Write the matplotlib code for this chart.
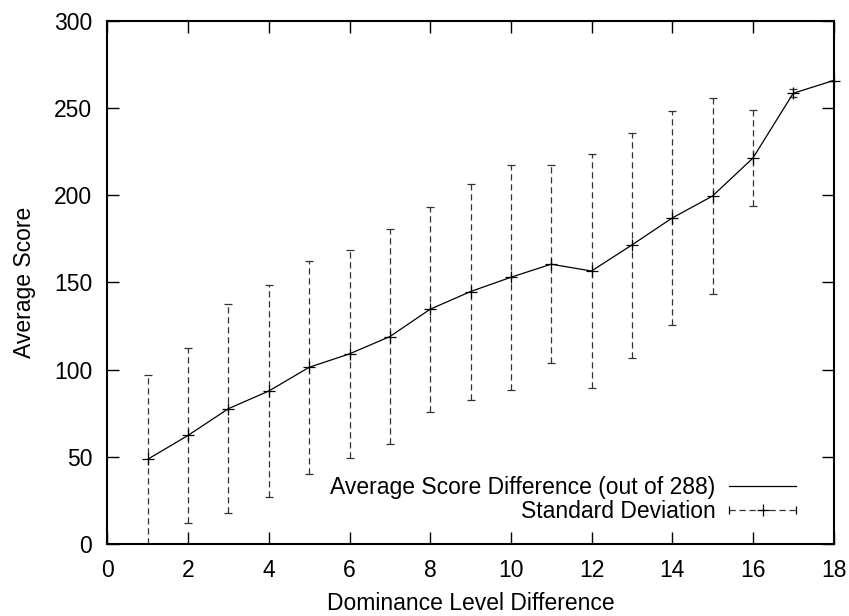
import matplotlib
matplotlib.use('Agg')
import matplotlib.pyplot as plt
from matplotlib.lines import Line2D
from matplotlib.legend_handler import HandlerBase

plt.rcParams['font.family'] = ['Liberation Sans', 'DejaVu Sans']
plt.rcParams['font.size'] = 16.5

# values
level_diff = [1, 2, 3, 4, 5, 6, 7, 8, 9, 10, 11, 12, 13, 14, 15, 16, 17, 18]
avg_score = [48.6, 62.3, 77.6, 87.7, 101.3, 109.0, 118.9, 134.6, 144.7, 152.9,
             160.4, 156.5, 171.4, 186.9, 199.5, 221.2, 258.4, 265.7]
std_dev = [48.5, 50.3, 60.0, 61.0, 61.2, 59.6, 61.8, 58.8, 61.9, 64.5,
           56.9, 67.0, 64.5, 61.5, 56.4, 27.5, 2.3, 0.0]

x_ticks = [0, 2, 4, 6, 8, 10, 12, 14, 16, 18]
y_ticks = [0, 50, 100, 150, 200, 250, 300]

dash = (0, (5, 3))


class StdHandler(HandlerBase):
    # gnuplot style key sample: |---+---|
    def create_artists(self, legend, orig_handle, xdescent, ydescent,
                       width, height, fontsize, trans):
        y = height / 2 - ydescent
        x0, x1 = -xdescent, width - xdescent
        line = Line2D([x0, x1], [y, y], color='#333333', lw=0.9,
                      linestyle=dash, transform=trans)
        mid = Line2D([(x0 + x1) / 2], [y], marker='+', markersize=8,
                     color='black', mew=0.9, linestyle='none', transform=trans)
        caps = Line2D([x0, x1], [y, y], marker='|', markersize=6,
                      color='black', mew=0.9, linestyle='none', transform=trans)
        return [line, mid, caps]


fig = plt.figure(figsize=(8.49, 6.16), dpi=100)
ax = fig.add_axes([0.1266, 0.1169, 0.8552, 0.8495])

eb = ax.errorbar(level_diff, avg_score, yerr=std_dev, fmt='none',
                 ecolor='#333333', elinewidth=0.9, capsize=3, capthick=0.9)
for lc in eb[2]:
    lc.set_linestyle(dash)

ax.plot(level_diff, avg_score, color='black', lw=0.9, marker='+',
        markersize=9, mew=0.9, clip_on=False, zorder=5)

ax.set_xlim(0, 18)
ax.set_ylim(0, 300)
ax.set_xticks(x_ticks)
ax.set_yticks(y_ticks)
ax.tick_params(direction='in', length=8.5, width=1.0, top=True, right=True,
               pad=11)
for s in ax.spines.values():
    s.set_linewidth(1.5)

ax.set_xlabel('Dominance Level Difference', labelpad=7)
ax.set_ylabel('Average Score', labelpad=13)

avg_handle = Line2D([], [], color='black', lw=0.9)
std_handle = Line2D([], [])
ax.legend([avg_handle, std_handle],
          ['Average Score Difference (out of 288)', 'Standard Deviation'],
          handler_map={std_handle: StdHandler()},
          loc='lower right', bbox_to_anchor=(0.967, 0.013), frameon=False,
          markerfirst=False, handlelength=2.9, handletextpad=0.6,
          labelspacing=0.05, borderaxespad=0.2)

fig.savefig('out.png', dpi=100)
